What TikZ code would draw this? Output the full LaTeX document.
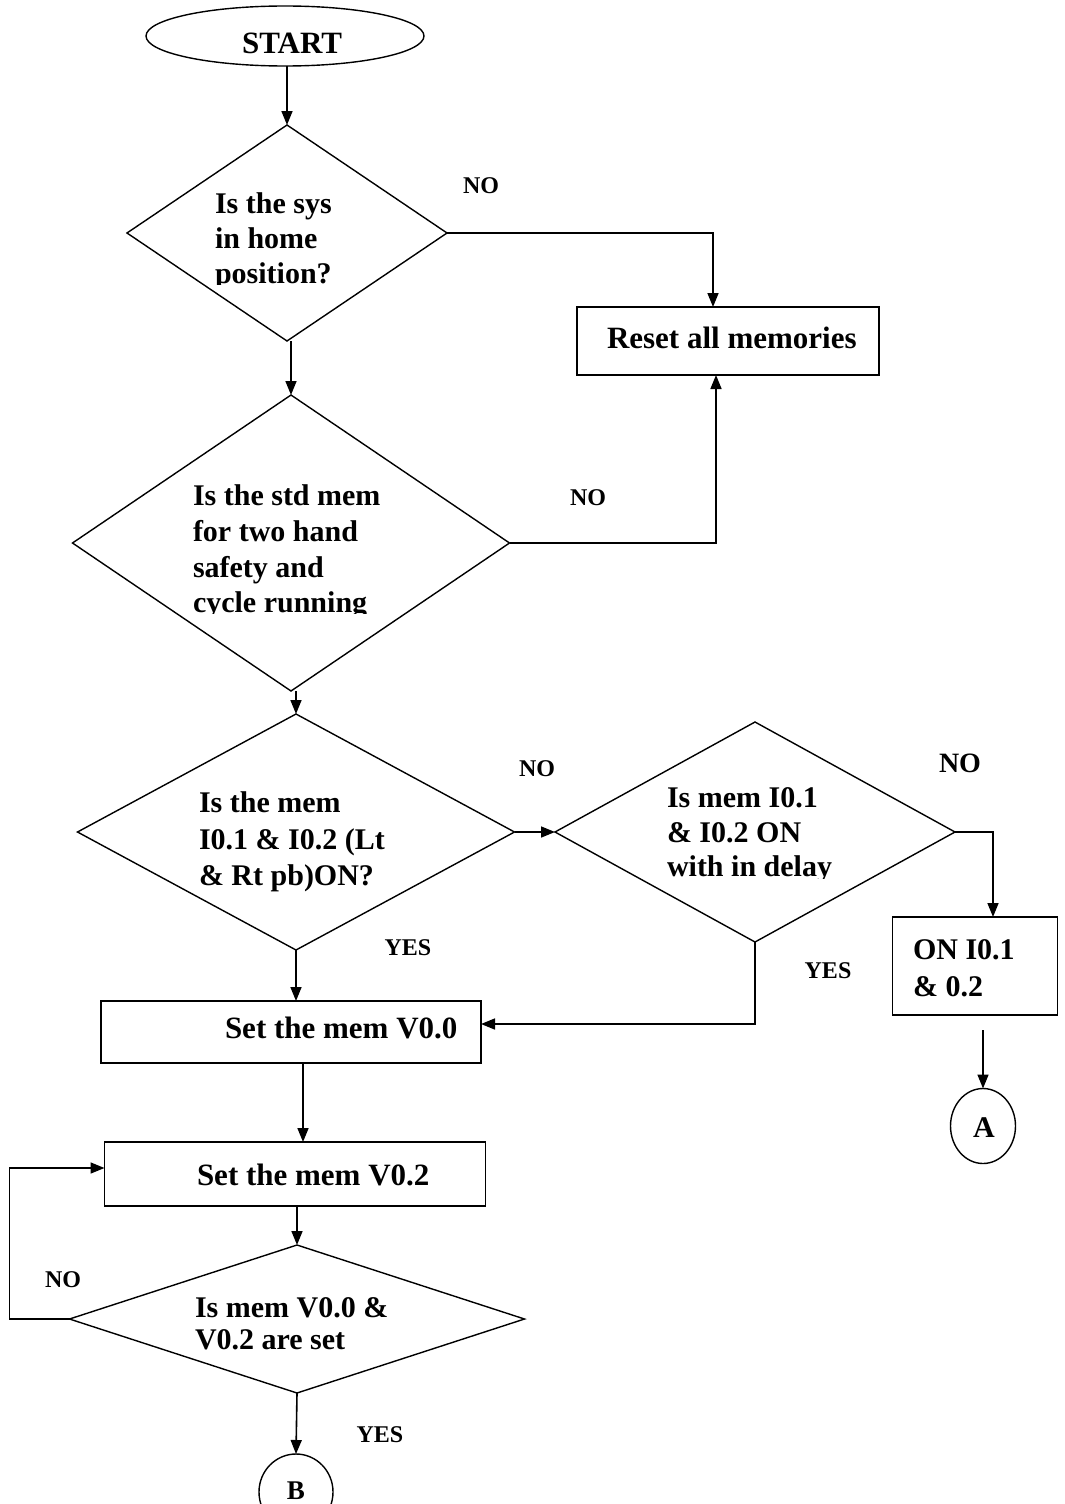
\documentclass[tikz,border=0pt]{standalone}
\usepackage{fontspec}
\setmainfont{Liberation Serif}
\usetikzlibrary{shapes.geometric,arrows.meta}
\begin{document}
\begin{tikzpicture}[x=1pt,y=-1pt,
  every node/.style={inner sep=0pt, outer sep=0pt},
  dec/.style={draw, diamond, line width=1.4pt},
  box/.style={draw, rectangle, line width=1.4pt},
  term/.style={draw, ellipse, line width=1.4pt},
  txt/.style={font=\bfseries\fontsize{30}{#1}\selectfont, align=left, anchor=north west},
  txt/.default=36,
  word/.style={font=\bfseries\fontsize{31}{36}\selectfont},
  lbl/.style={font=\bfseries\fontsize{24}{28}\selectfont},
  flow/.style={line width=1.6pt, -{Triangle[length=14pt,width=11pt]}}
]
\fill[white] (0,0) rectangle (1065,1504);
\useasboundingbox (0,0) rectangle (1065,1504);

% terminals and process boxes
\node[term, minimum width=278pt, minimum height=60pt] (start) at (285,36) {};
\node[word, anchor=base] (startT) at (292,53) {START};

\node[box, minimum width=302pt, minimum height=68pt] (reset) at (728,341) {};
\node[word, anchor=base west] (resetT) at (607,348) {Reset all memories};

\node[box, minimum width=165pt, minimum height=98pt] (on) at (975,966) {};
\node[txt=37] (onT) at (913,940) {ON I0.1\\\& 0.2};

\node[term, minimum width=65pt, minimum height=75pt] (A) at (983,1126) {};
\node[word, font=\bfseries\fontsize{30}{34}\selectfont] (AT) at (984,1128) {A};

\node[box, minimum width=380pt, minimum height=62pt] (set0) at (291,1032) {};
\node[word, anchor=base west] (set0T) at (225,1038) {Set the mem V0.0};

\node[box, minimum width=381pt, minimum height=64pt] (set2) at (295,1174) {};
\node[word, anchor=base west] (set2T) at (197,1185) {Set the mem V0.2};

\node[term, minimum width=74pt, minimum height=76pt] (B) at (296,1492) {};
\node[word, font=\bfseries\fontsize{27}{30}\selectfont, anchor=base] (BT) at (296,1499) {B};

% decisions
\node[dec, minimum width=320pt, minimum height=216pt] (d1) at (287,233) {};
\begin{scope}
  \clip (100,150) rectangle (500,284);
  \node[txt=35] (d1T) at (215,193) {Is the sys\\in home\\position?};
\end{scope}

\node[dec, minimum width=437pt, minimum height=296pt] (d2) at (291,543) {};
\begin{scope}
  \clip (100,450) rectangle (500,613);
  \node[txt=35.7] (d2T) at (193,485) {Is the std mem\\for two hand\\safety and\\cycle running};
\end{scope}

\node[dec, minimum width=437pt, minimum height=236pt] (d3) at (296,832) {};
\node[txt=36.5] (d3T) at (199,792) {Is the mem\\I0.1 \& I0.2 (Lt\\\& Rt pb)ON?};

\node[dec, minimum width=400pt, minimum height=220pt] (d4) at (755,832) {};
\begin{scope}
  \clip (600,750) rectangle (950,878);
  \node[txt=34.5] (d4T) at (667,788) {Is mem I0.1\\\& I0.2 ON\\with in delay};
\end{scope}

\node[dec, minimum width=455pt, minimum height=148pt] (d5) at (297,1319) {};
\node[txt=32] (d5T) at (195,1298) {Is mem V0.0 \&\\V0.2 are set};

% branch labels
\node[lbl] (no1) at (481,186) {NO};
\node[lbl] (no2) at (588,498) {NO};
\node[lbl] (no3) at (537,769) {NO};
\node[lbl, font=\bfseries\fontsize{28}{32}\selectfont] (no4) at (960,763) {NO};
\node[lbl] (yes1) at (408,948) {YES};
\node[lbl] (yes2) at (828,971) {YES};
\node[lbl] (no5) at (63,1280) {NO};
\node[lbl] (yes3) at (380,1435) {YES};

% connectors
\draw[flow] (d1.north |- start.south) -- (d1.north);
\draw[flow] (d1.east) -| ([xshift=-15pt]reset.north);
\draw[flow] (d2.north |- d1.south) -- (d2.north);
\draw[flow] (d2.east) -| ([xshift=-12pt]reset.south);
\draw[flow] (d3.north |- d2.south) -- (d3.north);
\draw[flow] (d3.east) -- (d4.west);
\draw[flow] (d4.east) -| ([xshift=18pt]on.north);
\draw[flow, shorten <=15pt] (on.south -| A.north) -- (A.north);
\draw[flow] (d3.south) -- (d3.south |- set0.north);
\draw[flow] (d4.south) |- ([yshift=8pt]set0.east);
\draw[flow] ([xshift=12pt]set0.south) -- ([xshift=12pt]set0.south |- set2.north);
\draw[flow] (set2.south -| d5.north) -- (d5.north);
\draw[flow] (d5.west) -- ++(-60,0) |- ([yshift=6pt]set2.west);
\draw[flow] (d5.south |- d5.south) -- (B.north);
\end{tikzpicture}
\end{document}
